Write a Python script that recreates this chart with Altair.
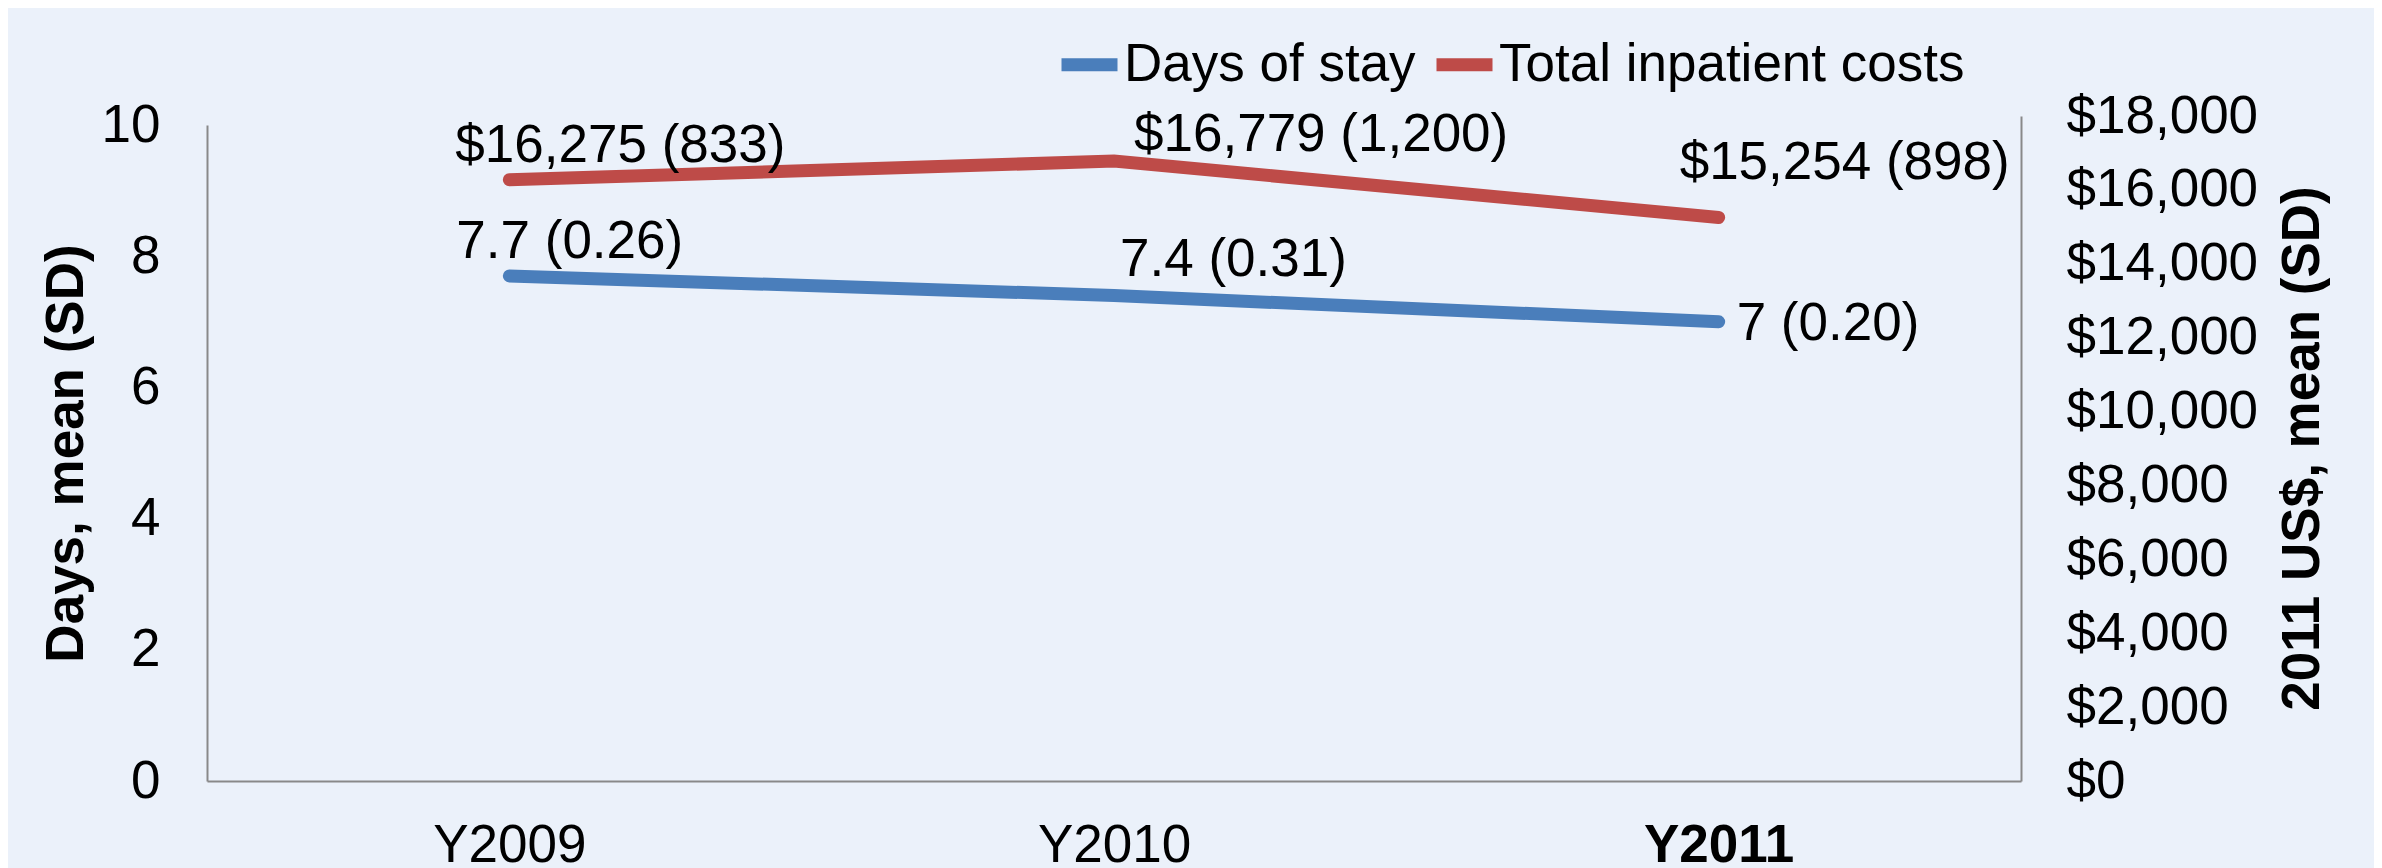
import altair as alt
import pandas as pd

years = ["Y2009", "Y2010", "Y2011"]
days_mean = [7.7, 7.4, 7.0]
days_sd = [0.26, 0.31, 0.20]
cost_mean = [16275, 16779, 15254]
cost_sd = [833, 1200, 898]
series_names = ["Days of stay", "Total inpatient costs"]
series_colors = ["#4A7EBB", "#BE4B48"]
left_ticks = [0, 2, 4, 6, 8, 10]
right_ticks = [0, 2000, 4000, 6000, 8000, 10000, 12000, 14000, 16000, 18000]


def fmt_num(v):
    return f"{v:g}"


df = pd.DataFrame({
    "year": years,
    "days": days_mean,
    "cost": cost_mean,
    "days_label": [f"{fmt_num(m)} ({s:.2f})" for m, s in zip(days_mean, days_sd)],
    "cost_label": [f"${m:,} ({s:,})" for m, s in zip(cost_mean, cost_sd)],
})

FONT = "Liberation Sans"
FS = 53
AXIS_GRAY = "#898989"
W, H = 1814, 656

x_enc = alt.X(
    "year:N", sort=years, title=None,
    axis=alt.Axis(
        labelAngle=0, ticks=False, grid=False, domainColor=AXIS_GRAY, domainWidth=2,
        labelFontSize=FS, labelFont=FONT, labelColor="black", labelPadding=38, labelLimit=0,
        labelFontWeight={"condition": {"test": "datum.value == 'Y2011'", "value": "bold"}, "value": "normal"},
    ),
)

y_left = alt.Y(
    "days:Q",
    scale=alt.Scale(domain=[0, 10], nice=False, zero=True),
    axis=alt.Axis(
        values=left_ticks, ticks=False, grid=False, domainColor=AXIS_GRAY, domainWidth=2,
        labelFontSize=FS, labelFont=FONT, labelColor="black", labelPadding=47, labelLimit=0,
        title="Days, mean (SD)", titleFont=FONT, titleFontSize=FS, titleFontWeight="bold",
        titleColor="black", titleAngle=-90, titleX=-125, titleY=328,
        titleAlign="center", titleBaseline="alphabetic", titleLimit=0,
    ),
)

y_right = alt.Y(
    "cost:Q",
    scale=alt.Scale(domain=[0, 18000], range=[H, -9], nice=False, zero=True),
    axis=alt.Axis(
        orient="right", values=right_ticks, format="$,.0f", ticks=False, grid=False,
        domainColor=AXIS_GRAY, domainWidth=2,
        labelFontSize=FS, labelFont=FONT, labelColor="black", labelPadding=45, labelAlign="left",
        labelLimit=0,
        title="2011 US$, mean (SD)", titleFont=FONT, titleFontSize=FS, titleFontWeight="bold",
        titleColor="black", titleAngle=-90, titleX=297, titleY=323,
        titleAlign="center", titleBaseline="alphabetic", titleLimit=0,
    ),
)

color_enc = alt.Color(
    "series:N",
    scale=alt.Scale(domain=series_names, range=series_colors),
    legend=alt.Legend(
        title=None, orient="none", direction="horizontal", legendX=848, legendY=-95,
        symbolType="stroke", symbolSize=3136, symbolStrokeWidth=13,
        labelFontSize=FS, labelFont=FONT, labelColor="black", labelLimit=0,
        labelOffset=0, columnPadding=-6, padding=0,
    ),
)

base = alt.Chart(df)

blue_line = base.transform_calculate(series="'Days of stay'").mark_line(
    strokeWidth=13, strokeCap="round"
).encode(x=x_enc, y=y_left, color=color_enc)

red_line = base.transform_calculate(series="'Total inpatient costs'").mark_line(
    strokeWidth=13, strokeCap="round"
).encode(x=x_enc, y=y_right, color=color_enc)

blue_offsets = {"Y2009": (-53, -18), "Y2010": (6, -20), "Y2011": (18, 18)}
red_offsets = {"Y2009": (-54, -18), "Y2010": (20, -10), "Y2011": (-39, -38)}

blue_texts = []
red_texts = []
for yr in years:
    dx, dy = blue_offsets[yr]
    blue_texts.append(
        base.transform_filter(alt.datum.year == yr).mark_text(
            align="left", baseline="alphabetic", dx=dx, dy=dy,
            fontSize=FS, font=FONT, color="black",
        ).encode(x=x_enc, y=y_left, text="days_label:N")
    )
    dx, dy = red_offsets[yr]
    red_texts.append(
        base.transform_filter(alt.datum.year == yr).mark_text(
            align="left", baseline="alphabetic", dx=dx, dy=dy,
            fontSize=FS, font=FONT, color="black",
        ).encode(x=x_enc, y=y_right, text="cost_label:N")
    )

left_layer = alt.layer(blue_line, *blue_texts)
right_layer = alt.layer(red_line, *red_texts)

chart = alt.layer(left_layer, right_layer).resolve_scale(y="independent").properties(
    width=W, height=H,
    autosize=alt.AutoSizeParams(type="none"),
    padding={"left": 199, "top": 117, "right": 353, "bottom": 100},
    background="#EBF1FA",
).configure_view(stroke=None)

chart.save("out.html", embed_options={"renderer": "svg", "actions": False})
